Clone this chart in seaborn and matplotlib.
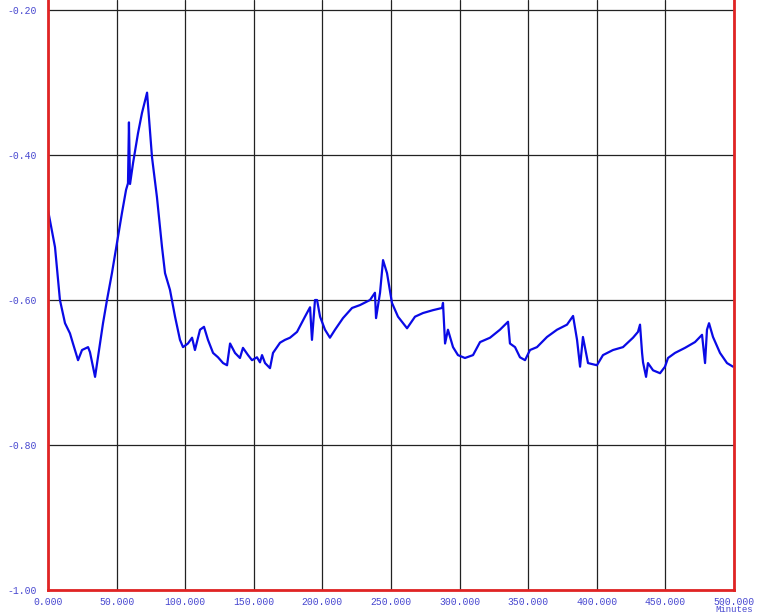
import matplotlib
matplotlib.use('Agg')
import matplotlib.pyplot as plt
import seaborn as sns
import pandas as pd
from matplotlib.ticker import MultipleLocator, FormatStrFormatter

# values
minutes = [0.0, 5.1, 8.7, 12.4, 16.0, 18.2, 21.9, 24.8, 29.2, 30.6, 34.3, 36.4,
           40.1, 43.0, 46.6, 50.3, 53.9, 56.9, 58.3, 59.0, 59.8, 62.0, 65.6, 68.5,
           72.2, 75.8, 79.4, 83.1, 85.3, 88.9, 92.6, 96.2, 98.4, 102.0, 105.0, 107.1,
           110.8, 113.7, 116.6, 120.3, 123.9, 127.6, 130.5, 132.7, 136.3, 139.9, 142.1,
           145.8, 148.7, 152.3, 154.5, 156.0, 158.2, 161.8, 164.0, 169.1, 172.7, 176.4,
           181.5, 185.9, 187.3, 191.0, 192.4, 194.6, 196.1, 198.3, 201.9, 205.5, 209.2,
           215.0, 221.6, 227.4, 234.7, 238.3, 239.1, 242.0, 244.2, 247.1, 250.7, 255.1,
           261.7, 267.5, 273.3, 280.6, 287.2, 287.9, 289.4, 291.5, 295.2, 298.8, 303.9,
           309.8, 314.9, 322.2, 329.4, 335.3, 336.7, 340.4, 344.0, 347.7, 351.3, 356.4,
           363.7, 371.0, 378.3, 382.7, 385.6, 387.8, 389.9, 393.6, 400.1, 404.5, 411.8,
           419.1, 426.4, 430.0, 431.5, 433.0, 433.7, 435.9, 437.3, 441.0, 446.1, 449.7,
           451.9, 457.0, 464.3, 471.6, 476.7, 478.9, 480.3, 481.8, 484.7, 489.8, 494.9,
           499.3]
signal = [-0.476, -0.527, -0.600, -0.632, -0.646, -0.660, -0.683, -0.669, -0.665, -0.672,
          -0.706, -0.679, -0.632, -0.600, -0.563, -0.521, -0.480, -0.448, -0.439, -0.355,
          -0.440, -0.411, -0.370, -0.342, -0.314, -0.403, -0.458, -0.527, -0.563, -0.586,
          -0.623, -0.655, -0.665, -0.660, -0.652, -0.669, -0.641, -0.637, -0.655, -0.673,
          -0.679, -0.687, -0.690, -0.660, -0.673, -0.680, -0.666, -0.676, -0.683, -0.679,
          -0.686, -0.676, -0.687, -0.694, -0.673, -0.659, -0.655, -0.652, -0.644, -0.628,
          -0.623, -0.610, -0.655, -0.600, -0.600, -0.623, -0.641, -0.652, -0.641, -0.625,
          -0.611, -0.607, -0.600, -0.590, -0.625, -0.590, -0.545, -0.563, -0.604, -0.623,
          -0.639, -0.623, -0.618, -0.614, -0.611, -0.604, -0.660, -0.641, -0.665, -0.676,
          -0.680, -0.676, -0.658, -0.652, -0.641, -0.630, -0.660, -0.665, -0.679, -0.683,
          -0.669, -0.665, -0.651, -0.641, -0.634, -0.622, -0.655, -0.692, -0.651, -0.687,
          -0.690, -0.676, -0.669, -0.665, -0.652, -0.644, -0.634, -0.673, -0.686, -0.706,
          -0.687, -0.697, -0.701, -0.692, -0.680, -0.673, -0.666, -0.658, -0.648, -0.687,
          -0.641, -0.632, -0.651, -0.673, -0.687, -0.692]

df = pd.DataFrame({'Minutes': minutes, 'Value': signal})

sns.set_style('white')
plt.rcParams['font.family'] = ['Liberation Mono', 'DejaVu Sans Mono']

fig = plt.figure(figsize=(7.68, 6.16), dpi=100)
ax = fig.add_axes([48 / 768, 1 - 590 / 616, 686 / 768, 590 / 616])

sns.lineplot(data=df, x='Minutes', y='Value', ax=ax, color='#0a0ae6',
             linewidth=1.6, sort=False, estimator=None)

ax.set_xlim(0, 500)
ax.set_ylim(-1.0, -0.2 + 10 / 725)
ax.xaxis.set_major_locator(MultipleLocator(50))
ax.xaxis.set_minor_locator(MultipleLocator(10))
ax.yaxis.set_major_locator(MultipleLocator(0.2))
ax.yaxis.set_minor_locator(MultipleLocator(0.04))
ax.xaxis.set_major_formatter(FormatStrFormatter('%.3f'))
ax.yaxis.set_major_formatter(FormatStrFormatter('%.2f'))
ax.set_xlabel('')
ax.set_ylabel('')

ax.grid(True, which='major', color='#222222', linewidth=0.9)

red = '#e02424'
for side in ['left', 'bottom', 'right']:
    ax.spines[side].set_color(red)
    ax.spines[side].set_linewidth(2)
ax.spines['top'].set_visible(False)

lab = '#4848d0'
ax.tick_params(axis='y', which='major', direction='out', length=7, width=1,
               color=red, pad=1, labelsize=7, labelcolor=lab)
ax.tick_params(axis='y', which='minor', direction='in', length=3, width=1, color=red)
ax.tick_params(axis='x', which='major', direction='out', length=3, width=1,
               color=red, pad=2, labelsize=7, labelcolor=lab)
ax.tick_params(axis='x', which='minor', direction='inout', length=4, width=1, color=red)

ax.annotate('Minutes', xy=(500, 0), xycoords=('data', 'axes fraction'),
            xytext=(0, -20), textcoords='offset pixels', ha='center', va='center',
            fontsize=6.5, color=lab, annotation_clip=False)

fig.savefig('out.png', dpi=100)
